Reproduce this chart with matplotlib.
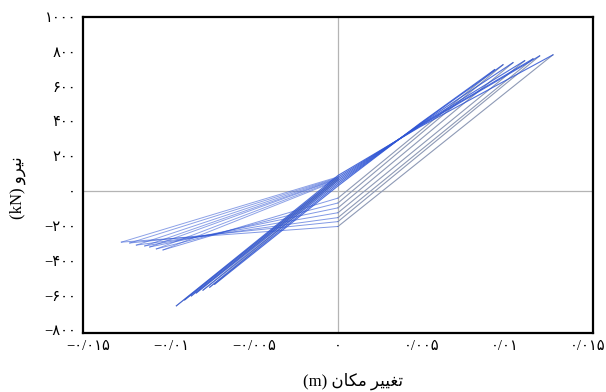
import numpy as np
import matplotlib.pyplot as plt

plt.rcParams['font.family'] = ['Liberation Serif', 'DejaVu Sans']

# Ciclos de histeresis (desplazamiento en m, fuerza en kN)
tip_x = [0.0094, 0.0099, 0.0105, 0.0112, 0.0117, 0.0121, 0.0129]
tip_y = [698, 726, 738, 749, 760, 777, 783]
kink_y = [-40, -68, -96, -124, -152, -175, -203]
left_x = [-0.0105, -0.0109, -0.0113, -0.0116, -0.0121, -0.0125, -0.0130]
left_y = [-338, -332, -321, -315, -310, -298, -293]
bot_x = [-0.0074, -0.0077, -0.0081, -0.0085, -0.0088, -0.0092, -0.0097]
bot_y = [-535, -552, -569, -585, -602, -625, -659]
cross_y = [30, 40, 50, 60, 70, 80, 90]
pinch_y = [62, 66, 70, 72, 75, 78, 82]
mid_x = 0.0049
mid_y = [388, 385, 382, 379, 376, 372, 368]

xticks = [-0.015, -0.01, -0.005, 0, 0.005, 0.01, 0.015]
xticklabels = ['\u2212\u06f0/\u06f0\u06f1\u06f5', '\u2212\u06f0/\u06f0\u06f1', '\u2212\u06f0/\u06f0\u06f0\u06f5',
               '\u06f0', '\u06f0/\u06f0\u06f0\u06f5', '\u06f0/\u06f0\u06f1', '\u06f0/\u06f0\u06f1\u06f5']
yticks = [-800, -600, -400, -200, 0, 200, 400, 600, 800, 1000]
yticklabels = ['\u2212\u06f8\u06f0\u06f0', '\u2212\u06f6\u06f0\u06f0', '\u2212\u06f4\u06f0\u06f0',
               '\u2212\u06f2\u06f0\u06f0', '\u06f0', '\u06f2\u06f0\u06f0', '\u06f4\u06f0\u06f0',
               '\u06f6\u06f0\u06f0', '\u06f8\u06f0\u06f0', '\u06f1\u06f0\u06f0\u06f0']

# "تغییر مکان (m)" y "نیرو (kN)" en orden visual con formas de presentacion
xlabel = '(m) \ufee5\ufe8e\ufb91\ufee3 \ufeae\ufbff\ufbff\ufed0\ufe97'
ylabel = '(kN) \ufeed\ufeae\ufbff\ufee7'

blue = '#2f55d4'
gray = '#8e9ab6'

fig = plt.figure(figsize=(6.06, 3.92), dpi=100)
ax = fig.add_axes([0.137, 0.1505, 0.8415, 0.806])

ax.axhline(0, color='#b4b4b4', lw=0.9, zorder=1)
ax.axvline(0, color='#b4b4b4', lw=0.9, zorder=1)

for i in range(len(tip_x)):
    # carga
    ax.plot([bot_x[i], 0, mid_x, tip_x[i]], [bot_y[i], cross_y[i], mid_y[i], tip_y[i]],
            color=blue, lw=0.8, alpha=0.85, zorder=3)
    # descarga
    ax.plot([tip_x[i], 0], [tip_y[i], kink_y[i]], color=gray, lw=0.8, zorder=2)
    ax.plot([0, left_x[i]], [kink_y[i], left_y[i]], color=blue, lw=0.7, alpha=0.6, zorder=2)
    # recarga
    ax.plot([left_x[i], 0], [left_y[i], pinch_y[i]], color=blue, lw=0.7, alpha=0.55, zorder=2)
    ax.plot([0, bot_x[i]], [pinch_y[i], bot_y[i]], color=gray, lw=0.7, alpha=0.8, zorder=2)

ax.set_xlim(-0.0153, 0.0153)
ax.set_ylim(-815, 1000)
ax.set_xticks(xticks)
ax.set_xticklabels(xticklabels)
ax.set_yticks(yticks)
ax.set_yticklabels(yticklabels)
ax.tick_params(length=0, labelsize=10.5, pad=5)

for s in ax.spines.values():
    s.set_linewidth(1.6)
    s.set_color('black')

ax.set_xlabel(xlabel, fontsize=12)
ax.xaxis.set_label_coords(0.53, -0.125)
ax.set_ylabel(ylabel, fontsize=12)
ax.yaxis.set_label_coords(-0.112, 0.46)

fig.savefig('out.png', dpi=100)
